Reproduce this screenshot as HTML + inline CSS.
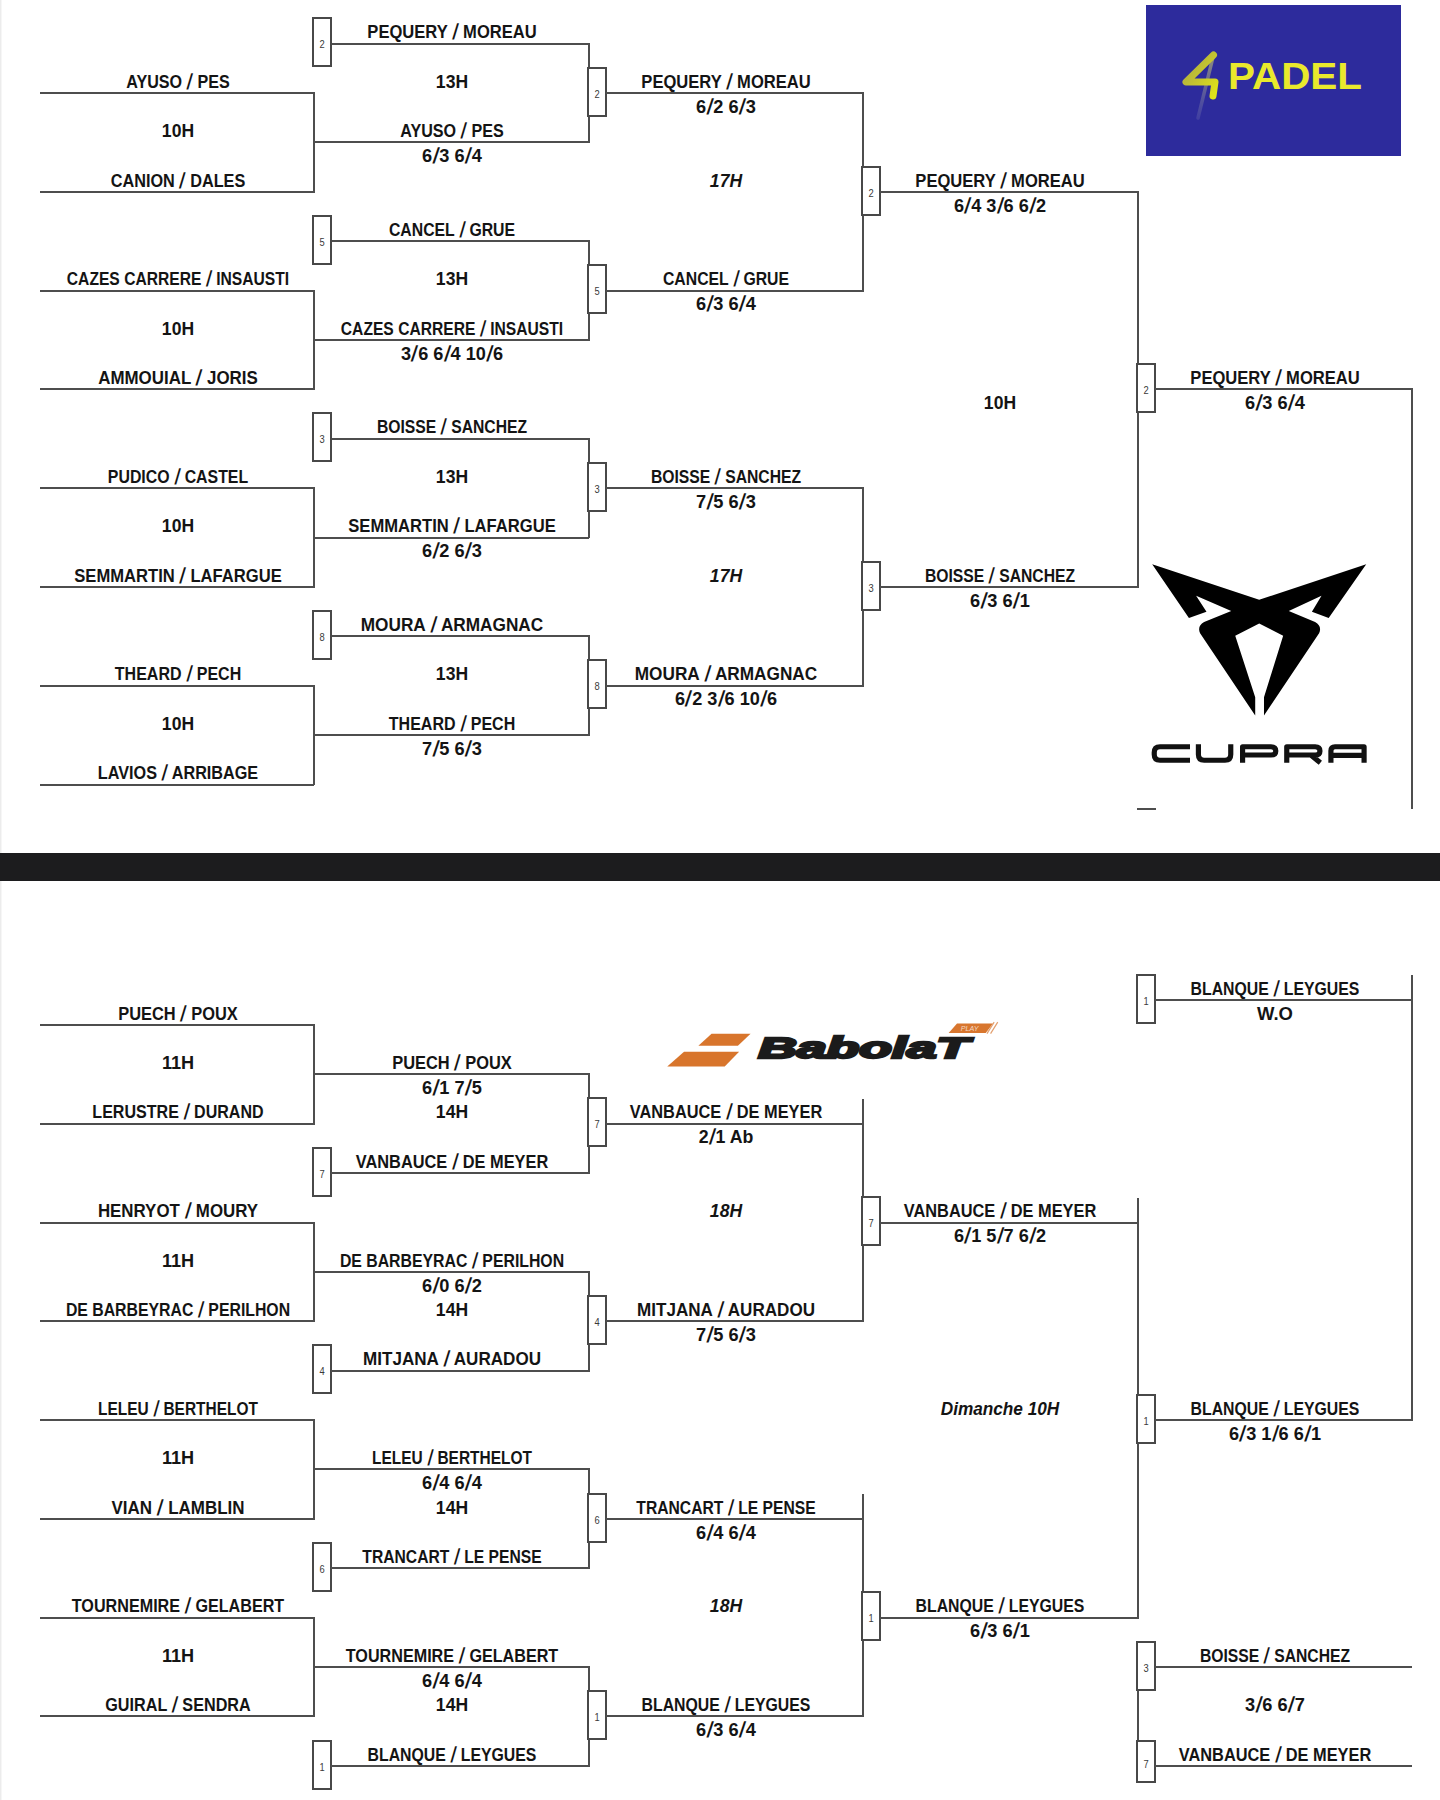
<!DOCTYPE html>
<html><head><meta charset="utf-8"><style>
html,body{margin:0;padding:0;background:#fff;}
body{width:1440px;height:1800px;position:relative;overflow:hidden;font-family:"Liberation Sans",sans-serif;}
.l{position:absolute;background:#4e4e4e;}
.b{position:absolute;width:16px;border:2px solid #484848;background:#fff;}
.b span{position:absolute;left:0;right:0;top:50%;margin-top:-4px;text-align:center;font-size:11px;line-height:12px;color:#3a3a3a;transform:scaleX(0.85);}
.t{position:absolute;width:400px;text-align:center;font-weight:bold;font-size:17.5px;line-height:20px;color:#141414;white-space:nowrap;transform-origin:200px 50%;}
.i{font-style:italic;}
.s{display:inline-block;margin:0 1px;transform:scaleY(1.25) skewX(-12deg);transform-origin:50% 55%;}
#edge{position:absolute;left:0;top:0;width:1px;height:1800px;background:#ececec;}
#edge2{position:absolute;left:1px;top:0;width:1px;height:1800px;background:#f6f6f6;}
#band{position:absolute;left:0;top:853px;width:1440px;height:28px;background:#1c1c1e;}
#padel{position:absolute;left:1145.5px;top:5px;width:255px;height:151px;background:#2d2b9c;}
</style></head><body>
<div id="edge"></div><div id="edge2"></div>
<div class="l" style="left:40.0px;top:92.0px;width:274.0px;height:2px"></div>
<div class="l" style="left:40.0px;top:190.8px;width:274.0px;height:2px"></div>
<div class="l" style="left:313.0px;top:92.0px;width:2px;height:100.8px"></div>
<div class="l" style="left:314.0px;top:141.4px;width:274.6px;height:2px"></div>
<div class="t" style="left:-22.5px;top:71.7px;transform:scaleX(0.921)">AYUSO <span class="s">/</span> PES</div>
<div class="t" style="left:-22.5px;top:121.1px;transform:scaleX(1.004)">10H</div>
<div class="t" style="left:-22.5px;top:170.5px;transform:scaleX(0.929)">CANION <span class="s">/</span> DALES</div>
<div class="l" style="left:331.0px;top:42.6px;width:257.6px;height:2px"></div>
<div class="b" style="left:312px;top:17px;height:46px"><span>2</span></div>
<div class="l" style="left:587.6px;top:42.6px;width:2px;height:100.8px"></div>
<div class="t" style="left:251.5px;top:22.3px;transform:scaleX(0.946)">PEQUERY <span class="s">/</span> MOREAU</div>
<div class="t" style="left:251.5px;top:71.7px;transform:scaleX(1.004)">13H</div>
<div class="t" style="left:251.5px;top:121.1px;transform:scaleX(0.921)">AYUSO <span class="s">/</span> PES</div>
<div class="t" style="left:251.5px;top:146.1px;transform:scaleX(1.041)">6<span class="s">/</span>3 6<span class="s">/</span>4</div>
<div class="l" style="left:40.0px;top:289.6px;width:274.0px;height:2px"></div>
<div class="l" style="left:40.0px;top:388.3px;width:274.0px;height:2px"></div>
<div class="l" style="left:313.0px;top:289.6px;width:2px;height:100.8px"></div>
<div class="l" style="left:314.0px;top:338.9px;width:274.6px;height:2px"></div>
<div class="t" style="left:-22.5px;top:269.2px;transform:scaleX(0.893)">CAZES CARRERE <span class="s">/</span> INSAUSTI</div>
<div class="t" style="left:-22.5px;top:318.6px;transform:scaleX(1.004)">10H</div>
<div class="t" style="left:-22.5px;top:368.0px;transform:scaleX(0.967)">AMMOUIAL <span class="s">/</span> JORIS</div>
<div class="l" style="left:331.0px;top:240.2px;width:257.6px;height:2px"></div>
<div class="b" style="left:312px;top:215px;height:46px"><span>5</span></div>
<div class="l" style="left:587.6px;top:240.2px;width:2px;height:100.8px"></div>
<div class="t" style="left:251.5px;top:219.9px;transform:scaleX(0.902)">CANCEL <span class="s">/</span> GRUE</div>
<div class="t" style="left:251.5px;top:269.2px;transform:scaleX(1.004)">13H</div>
<div class="t" style="left:251.5px;top:318.6px;transform:scaleX(0.893)">CAZES CARRERE <span class="s">/</span> INSAUSTI</div>
<div class="t" style="left:251.5px;top:343.6px;transform:scaleX(1.036)">3<span class="s">/</span>6 6<span class="s">/</span>4 10<span class="s">/</span>6</div>
<div class="l" style="left:40.0px;top:487.1px;width:274.0px;height:2px"></div>
<div class="l" style="left:40.0px;top:585.9px;width:274.0px;height:2px"></div>
<div class="l" style="left:313.0px;top:487.1px;width:2px;height:100.8px"></div>
<div class="l" style="left:314.0px;top:536.5px;width:274.6px;height:2px"></div>
<div class="t" style="left:-22.5px;top:466.8px;transform:scaleX(0.907)">PUDICO <span class="s">/</span> CASTEL</div>
<div class="t" style="left:-22.5px;top:516.2px;transform:scaleX(1.004)">10H</div>
<div class="t" style="left:-22.5px;top:565.6px;transform:scaleX(0.948)">SEMMARTIN <span class="s">/</span> LAFARGUE</div>
<div class="l" style="left:331.0px;top:437.7px;width:257.6px;height:2px"></div>
<div class="b" style="left:312px;top:412px;height:46px"><span>3</span></div>
<div class="l" style="left:587.6px;top:437.7px;width:2px;height:100.8px"></div>
<div class="t" style="left:251.5px;top:417.4px;transform:scaleX(0.897)">BOISSE <span class="s">/</span> SANCHEZ</div>
<div class="t" style="left:251.5px;top:466.8px;transform:scaleX(1.004)">13H</div>
<div class="t" style="left:251.5px;top:516.2px;transform:scaleX(0.948)">SEMMARTIN <span class="s">/</span> LAFARGUE</div>
<div class="t" style="left:251.5px;top:541.2px;transform:scaleX(1.041)">6<span class="s">/</span>2 6<span class="s">/</span>3</div>
<div class="l" style="left:40.0px;top:684.7px;width:274.0px;height:2px"></div>
<div class="l" style="left:40.0px;top:783.5px;width:274.0px;height:2px"></div>
<div class="l" style="left:313.0px;top:684.7px;width:2px;height:100.8px"></div>
<div class="l" style="left:314.0px;top:734.1px;width:274.6px;height:2px"></div>
<div class="t" style="left:-22.5px;top:664.4px;transform:scaleX(0.915)">THEARD <span class="s">/</span> PECH</div>
<div class="t" style="left:-22.5px;top:713.8px;transform:scaleX(1.004)">10H</div>
<div class="t" style="left:-22.5px;top:763.2px;transform:scaleX(0.926)">LAVIOS <span class="s">/</span> ARRIBAGE</div>
<div class="l" style="left:331.0px;top:635.3px;width:257.6px;height:2px"></div>
<div class="b" style="left:312px;top:610px;height:46px"><span>8</span></div>
<div class="l" style="left:587.6px;top:635.3px;width:2px;height:100.8px"></div>
<div class="t" style="left:251.5px;top:615.0px;transform:scaleX(0.984)">MOURA <span class="s">/</span> ARMAGNAC</div>
<div class="t" style="left:251.5px;top:664.4px;transform:scaleX(1.004)">13H</div>
<div class="t" style="left:251.5px;top:713.8px;transform:scaleX(0.915)">THEARD <span class="s">/</span> PECH</div>
<div class="t" style="left:251.5px;top:738.8px;transform:scaleX(1.041)">7<span class="s">/</span>5 6<span class="s">/</span>3</div>
<div class="b" style="left:587px;top:67px;height:46px"><span>2</span></div>
<div class="l" style="left:605.6px;top:92.0px;width:257.4px;height:2px"></div>
<div class="t" style="left:526.0px;top:71.7px;transform:scaleX(0.946)">PEQUERY <span class="s">/</span> MOREAU</div>
<div class="t" style="left:526.0px;top:96.7px;transform:scaleX(1.041)">6<span class="s">/</span>2 6<span class="s">/</span>3</div>
<div class="b" style="left:587px;top:264px;height:46px"><span>5</span></div>
<div class="l" style="left:605.6px;top:289.6px;width:257.4px;height:2px"></div>
<div class="t" style="left:526.0px;top:269.2px;transform:scaleX(0.902)">CANCEL <span class="s">/</span> GRUE</div>
<div class="t" style="left:526.0px;top:294.2px;transform:scaleX(1.041)">6<span class="s">/</span>3 6<span class="s">/</span>4</div>
<div class="b" style="left:587px;top:462px;height:46px"><span>3</span></div>
<div class="l" style="left:605.6px;top:487.1px;width:257.4px;height:2px"></div>
<div class="t" style="left:526.0px;top:466.8px;transform:scaleX(0.897)">BOISSE <span class="s">/</span> SANCHEZ</div>
<div class="t" style="left:526.0px;top:491.8px;transform:scaleX(1.041)">7<span class="s">/</span>5 6<span class="s">/</span>3</div>
<div class="b" style="left:587px;top:659px;height:46px"><span>8</span></div>
<div class="l" style="left:605.6px;top:684.7px;width:257.4px;height:2px"></div>
<div class="t" style="left:526.0px;top:664.4px;transform:scaleX(0.984)">MOURA <span class="s">/</span> ARMAGNAC</div>
<div class="t" style="left:526.0px;top:689.4px;transform:scaleX(1.036)">6<span class="s">/</span>2 3<span class="s">/</span>6 10<span class="s">/</span>6</div>
<div class="l" style="left:862.0px;top:92.0px;width:2px;height:199.6px"></div>
<div class="l" style="left:862.0px;top:487.1px;width:2px;height:199.6px"></div>
<div class="t i" style="left:526.0px;top:170.5px;transform:scaleX(1.004)">17H</div>
<div class="t i" style="left:526.0px;top:565.6px;transform:scaleX(1.004)">17H</div>
<div class="b" style="left:861px;top:166px;height:46px"><span>2</span></div>
<div class="l" style="left:880.0px;top:190.8px;width:257.5px;height:2px"></div>
<div class="b" style="left:861px;top:561px;height:46px"><span>3</span></div>
<div class="l" style="left:880.0px;top:585.9px;width:257.5px;height:2px"></div>
<div class="t" style="left:800.0px;top:170.5px;transform:scaleX(0.946)">PEQUERY <span class="s">/</span> MOREAU</div>
<div class="t" style="left:800.0px;top:195.5px;transform:scaleX(1.037)">6<span class="s">/</span>4 3<span class="s">/</span>6 6<span class="s">/</span>2</div>
<div class="t" style="left:800.0px;top:565.6px;transform:scaleX(0.897)">BOISSE <span class="s">/</span> SANCHEZ</div>
<div class="t" style="left:800.0px;top:590.6px;transform:scaleX(1.041)">6<span class="s">/</span>3 6<span class="s">/</span>1</div>
<div class="l" style="left:1136.5px;top:190.8px;width:2px;height:397.1px"></div>
<div class="t" style="left:800.0px;top:393.0px;transform:scaleX(1.004)">10H</div>
<div class="b" style="left:1136px;top:363px;height:46px"><span>2</span></div>
<div class="l" style="left:1154.5px;top:388.3px;width:257.1px;height:2px"></div>
<div class="t" style="left:1074.5px;top:368.0px;transform:scaleX(0.946)">PEQUERY <span class="s">/</span> MOREAU</div>
<div class="t" style="left:1074.5px;top:393.0px;transform:scaleX(1.041)">6<span class="s">/</span>3 6<span class="s">/</span>4</div>
<div class="l" style="left:1410.6px;top:388.3px;width:2px;height:421.2px"></div>
<div class="l" style="left:1136.5px;top:807.5px;width:19.0px;height:2px"></div>
<div class="l" style="left:40.0px;top:1023.9px;width:274.0px;height:2px"></div>
<div class="l" style="left:40.0px;top:1122.7px;width:274.0px;height:2px"></div>
<div class="l" style="left:313.0px;top:1023.9px;width:2px;height:100.8px"></div>
<div class="l" style="left:314.0px;top:1073.3px;width:274.6px;height:2px"></div>
<div class="t" style="left:-22.5px;top:1003.6px;transform:scaleX(0.938)">PUECH <span class="s">/</span> POUX</div>
<div class="t" style="left:-22.5px;top:1053.0px;transform:scaleX(1.035)">11H</div>
<div class="t" style="left:-22.5px;top:1102.4px;transform:scaleX(0.917)">LERUSTRE <span class="s">/</span> DURAND</div>
<div class="t" style="left:251.5px;top:1053.0px;transform:scaleX(0.938)">PUECH <span class="s">/</span> POUX</div>
<div class="t" style="left:251.5px;top:1078.0px;transform:scaleX(1.041)">6<span class="s">/</span>1 7<span class="s">/</span>5</div>
<div class="t" style="left:251.5px;top:1102.4px;transform:scaleX(1.004)">14H</div>
<div class="b" style="left:312px;top:1147px;height:46px"><span>7</span></div>
<div class="l" style="left:331.0px;top:1172.1px;width:257.6px;height:2px"></div>
<div class="t" style="left:251.5px;top:1151.8px;transform:scaleX(0.935)">VANBAUCE <span class="s">/</span> DE MEYER</div>
<div class="l" style="left:587.6px;top:1073.3px;width:2px;height:100.8px"></div>
<div class="l" style="left:40.0px;top:1221.5px;width:274.0px;height:2px"></div>
<div class="l" style="left:40.0px;top:1320.2px;width:274.0px;height:2px"></div>
<div class="l" style="left:313.0px;top:1221.5px;width:2px;height:100.8px"></div>
<div class="l" style="left:314.0px;top:1270.9px;width:274.6px;height:2px"></div>
<div class="t" style="left:-22.5px;top:1201.2px;transform:scaleX(0.965)">HENRYOT <span class="s">/</span> MOURY</div>
<div class="t" style="left:-22.5px;top:1250.6px;transform:scaleX(1.035)">11H</div>
<div class="t" style="left:-22.5px;top:1299.9px;transform:scaleX(0.904)">DE BARBEYRAC <span class="s">/</span> PERILHON</div>
<div class="t" style="left:251.5px;top:1250.6px;transform:scaleX(0.904)">DE BARBEYRAC <span class="s">/</span> PERILHON</div>
<div class="t" style="left:251.5px;top:1275.6px;transform:scaleX(1.041)">6<span class="s">/</span>0 6<span class="s">/</span>2</div>
<div class="t" style="left:251.5px;top:1299.9px;transform:scaleX(1.004)">14H</div>
<div class="b" style="left:312px;top:1344px;height:46px"><span>4</span></div>
<div class="l" style="left:331.0px;top:1369.6px;width:257.6px;height:2px"></div>
<div class="t" style="left:251.5px;top:1349.3px;transform:scaleX(0.975)">MITJANA <span class="s">/</span> AURADOU</div>
<div class="l" style="left:587.6px;top:1270.9px;width:2px;height:100.8px"></div>
<div class="l" style="left:40.0px;top:1419.0px;width:274.0px;height:2px"></div>
<div class="l" style="left:40.0px;top:1517.8px;width:274.0px;height:2px"></div>
<div class="l" style="left:313.0px;top:1419.0px;width:2px;height:100.8px"></div>
<div class="l" style="left:314.0px;top:1468.4px;width:274.6px;height:2px"></div>
<div class="t" style="left:-22.5px;top:1398.7px;transform:scaleX(0.883)">LELEU <span class="s">/</span> BERTHELOT</div>
<div class="t" style="left:-22.5px;top:1448.1px;transform:scaleX(1.035)">11H</div>
<div class="t" style="left:-22.5px;top:1497.5px;transform:scaleX(0.970)">VIAN <span class="s">/</span> LAMBLIN</div>
<div class="t" style="left:251.5px;top:1448.1px;transform:scaleX(0.883)">LELEU <span class="s">/</span> BERTHELOT</div>
<div class="t" style="left:251.5px;top:1473.1px;transform:scaleX(1.041)">6<span class="s">/</span>4 6<span class="s">/</span>4</div>
<div class="t" style="left:251.5px;top:1497.5px;transform:scaleX(1.004)">14H</div>
<div class="b" style="left:312px;top:1542px;height:46px"><span>6</span></div>
<div class="l" style="left:331.0px;top:1567.2px;width:257.6px;height:2px"></div>
<div class="t" style="left:251.5px;top:1546.9px;transform:scaleX(0.895)">TRANCART <span class="s">/</span> LE PENSE</div>
<div class="l" style="left:587.6px;top:1468.4px;width:2px;height:100.8px"></div>
<div class="l" style="left:40.0px;top:1616.6px;width:274.0px;height:2px"></div>
<div class="l" style="left:40.0px;top:1715.4px;width:274.0px;height:2px"></div>
<div class="l" style="left:313.0px;top:1616.6px;width:2px;height:100.8px"></div>
<div class="l" style="left:314.0px;top:1666.0px;width:274.6px;height:2px"></div>
<div class="t" style="left:-22.5px;top:1596.3px;transform:scaleX(0.923)">TOURNEMIRE <span class="s">/</span> GELABERT</div>
<div class="t" style="left:-22.5px;top:1645.7px;transform:scaleX(1.035)">11H</div>
<div class="t" style="left:-22.5px;top:1695.1px;transform:scaleX(0.925)">GUIRAL <span class="s">/</span> SENDRA</div>
<div class="t" style="left:251.5px;top:1645.7px;transform:scaleX(0.923)">TOURNEMIRE <span class="s">/</span> GELABERT</div>
<div class="t" style="left:251.5px;top:1670.7px;transform:scaleX(1.041)">6<span class="s">/</span>4 6<span class="s">/</span>4</div>
<div class="t" style="left:251.5px;top:1695.1px;transform:scaleX(1.004)">14H</div>
<div class="b" style="left:312px;top:1740px;height:46px"><span>1</span></div>
<div class="l" style="left:331.0px;top:1764.8px;width:257.6px;height:2px"></div>
<div class="t" style="left:251.5px;top:1744.5px;transform:scaleX(0.904)">BLANQUE <span class="s">/</span> LEYGUES</div>
<div class="l" style="left:587.6px;top:1666.0px;width:2px;height:100.8px"></div>
<div class="b" style="left:587px;top:1097px;height:46px"><span>7</span></div>
<div class="l" style="left:605.6px;top:1122.7px;width:257.4px;height:2px"></div>
<div class="t" style="left:526.0px;top:1102.4px;transform:scaleX(0.935)">VANBAUCE <span class="s">/</span> DE MEYER</div>
<div class="t" style="left:526.0px;top:1127.4px;transform:scaleX(1.013)">2<span class="s">/</span>1 Ab</div>
<div class="b" style="left:587px;top:1295px;height:46px"><span>4</span></div>
<div class="l" style="left:605.6px;top:1320.2px;width:257.4px;height:2px"></div>
<div class="t" style="left:526.0px;top:1299.9px;transform:scaleX(0.975)">MITJANA <span class="s">/</span> AURADOU</div>
<div class="t" style="left:526.0px;top:1324.9px;transform:scaleX(1.041)">7<span class="s">/</span>5 6<span class="s">/</span>3</div>
<div class="b" style="left:587px;top:1493px;height:46px"><span>6</span></div>
<div class="l" style="left:605.6px;top:1517.8px;width:257.4px;height:2px"></div>
<div class="t" style="left:526.0px;top:1497.5px;transform:scaleX(0.895)">TRANCART <span class="s">/</span> LE PENSE</div>
<div class="t" style="left:526.0px;top:1522.5px;transform:scaleX(1.041)">6<span class="s">/</span>4 6<span class="s">/</span>4</div>
<div class="b" style="left:587px;top:1690px;height:46px"><span>1</span></div>
<div class="l" style="left:605.6px;top:1715.4px;width:257.4px;height:2px"></div>
<div class="t" style="left:526.0px;top:1695.1px;transform:scaleX(0.904)">BLANQUE <span class="s">/</span> LEYGUES</div>
<div class="t" style="left:526.0px;top:1720.1px;transform:scaleX(1.041)">6<span class="s">/</span>3 6<span class="s">/</span>4</div>
<div class="l" style="left:862.0px;top:1098.7px;width:2px;height:223.6px"></div>
<div class="l" style="left:862.0px;top:1493.8px;width:2px;height:223.6px"></div>
<div class="t i" style="left:526.0px;top:1201.2px;transform:scaleX(1.004)">18H</div>
<div class="t i" style="left:526.0px;top:1596.3px;transform:scaleX(1.004)">18H</div>
<div class="b" style="left:861px;top:1196px;height:46px"><span>7</span></div>
<div class="l" style="left:880.0px;top:1221.5px;width:257.5px;height:2px"></div>
<div class="b" style="left:861px;top:1591px;height:46px"><span>1</span></div>
<div class="l" style="left:880.0px;top:1616.6px;width:257.5px;height:2px"></div>
<div class="t" style="left:800.0px;top:1201.2px;transform:scaleX(0.935)">VANBAUCE <span class="s">/</span> DE MEYER</div>
<div class="t" style="left:800.0px;top:1226.2px;transform:scaleX(1.037)">6<span class="s">/</span>1 5<span class="s">/</span>7 6<span class="s">/</span>2</div>
<div class="t" style="left:800.0px;top:1596.3px;transform:scaleX(0.904)">BLANQUE <span class="s">/</span> LEYGUES</div>
<div class="t" style="left:800.0px;top:1621.3px;transform:scaleX(1.041)">6<span class="s">/</span>3 6<span class="s">/</span>1</div>
<div class="t i" style="left:800.0px;top:1398.7px;transform:scaleX(0.983)">Dimanche 10H</div>
<div class="l" style="left:1136.5px;top:1197.5px;width:2px;height:421.1px"></div>
<div class="b" style="left:1136px;top:1394px;height:46px"><span>1</span></div>
<div class="l" style="left:1154.5px;top:1419.0px;width:257.1px;height:2px"></div>
<div class="t" style="left:1074.5px;top:1398.7px;transform:scaleX(0.904)">BLANQUE <span class="s">/</span> LEYGUES</div>
<div class="t" style="left:1074.5px;top:1423.7px;transform:scaleX(1.037)">6<span class="s">/</span>3 1<span class="s">/</span>6 6<span class="s">/</span>1</div>
<div class="b" style="left:1136px;top:974px;height:46px"><span>1</span></div>
<div class="l" style="left:1154.5px;top:999.2px;width:257.1px;height:2px"></div>
<div class="l" style="left:1410.6px;top:975.2px;width:2px;height:445.8px"></div>
<div class="t" style="left:1074.5px;top:978.9px;transform:scaleX(0.904)">BLANQUE <span class="s">/</span> LEYGUES</div>
<div class="t" style="left:1074.5px;top:1003.9px;transform:scaleX(1.056)">W.O</div>
<div class="b" style="left:1136px;top:1641px;height:46px"><span>3</span></div>
<div class="l" style="left:1154.5px;top:1666.0px;width:257.1px;height:2px"></div>
<div class="t" style="left:1074.5px;top:1645.7px;transform:scaleX(0.897)">BOISSE <span class="s">/</span> SANCHEZ</div>
<div class="l" style="left:1136.5px;top:1691.0px;width:2px;height:50.8px"></div>
<div class="b" style="left:1136px;top:1740px;height:39px"><span>7</span></div>
<div class="l" style="left:1154.5px;top:1764.8px;width:257.1px;height:2px"></div>
<div class="t" style="left:1074.5px;top:1744.5px;transform:scaleX(0.935)">VANBAUCE <span class="s">/</span> DE MEYER</div>
<div class="t" style="left:1074.5px;top:1695.1px;transform:scaleX(1.041)">3<span class="s">/</span>6 6<span class="s">/</span>7</div>
<div id="padel">
<svg width="255" height="151" viewBox="0 0 255 151" style="position:absolute;left:0;top:0">
<defs><linearGradient id="g4" x1="0" y1="0" x2="1" y2="1"><stop offset="0" stop-color="#a8a848"/><stop offset="0.5" stop-color="#c4c430"/><stop offset="1" stop-color="#e0e618"/></linearGradient>
<linearGradient id="gt" x1="0" y1="0" x2="0" y2="1"><stop offset="0" stop-color="#9a9a78" stop-opacity="0.9"/><stop offset="1" stop-color="#7070b0" stop-opacity="0.3"/></linearGradient></defs>
<path d="M67,52 L52,113" stroke="url(#gt)" stroke-width="3.5" stroke-linecap="round" fill="none"/>
<path d="M67.5,50 L40,77 L69,77 L67,91" stroke="url(#g4)" stroke-width="7" stroke-linecap="round" stroke-linejoin="round" fill="none"/>
<text x="82" y="84" font-family="Liberation Sans" font-weight="bold" font-size="36" fill="#e9e92c" textLength="134" lengthAdjust="spacingAndGlyphs">PADEL</text>
</svg></div>
<svg width="230" height="170" viewBox="0 0 1440 1064" style="position:absolute;left:1145px;top:555px">
<path d="M45,58 L715,280 L1385,58 L1150,395 L1045,355 L1105,255 L900,350 L1065,420 Q1110,445 1090,490 L745,1005 L745,890 L865,505 L715,428 L565,505 L690,890 L690,1005 L345,490 Q325,445 370,420 L540,350 L320,255 L385,355 L275,395 Z" fill="#000"/>
</svg>
<svg width="240" height="45" viewBox="0 0 1440 270" style="position:absolute;left:1140px;top:730px">
<g fill="none" stroke="#111" stroke-width="31" stroke-linejoin="round">
<path d="M300,100.5 H120 Q85.5,100.5 85.5,135 V147 Q85.5,181.5 120,181.5 H300"/>
<path d="M350.5,85 V147 Q350.5,181.5 385,181.5 H510 Q544.5,181.5 544.5,147 V85"/>
<path d="M615.5,197 V100.5 H786 Q814.5,100.5 814.5,125 V127 Q814.5,150 786,150 H615.5"/>
<path d="M880.5,197 V100.5 H1051 Q1079.5,100.5 1079.5,125 V127 Q1079.5,150 1051,150 H880.5 M1025,150 L1082,197"/>
<path d="M1145.5,197 V125 Q1145.5,100.5 1170,100.5 H1344.5 V197 M1145.5,152 H1344.5"/>
</g></svg>
<div id="band"></div>
<svg width="345" height="57" viewBox="0 0 1440 238" style="position:absolute;left:660px;top:1015px">
<polygon points="215,78 378,78 325,128 160,128" fill="#d8752c"/>
<polygon points="100,153 330,153 270,215 30,215" fill="#d8752c"/>
<polygon points="1240,35 1390,35 1360,75 1205,75" fill="#d8762e"/>
<path d="M1395,30 L1365,78 M1410,30 L1380,78" stroke="#e3a070" stroke-width="5"/>
<text x="1255" y="68" font-family="Liberation Sans" font-style="italic" font-size="30" fill="#f4d9c4">PLAY</text>
<text x="410" y="181" font-family="Liberation Sans" font-weight="bold" font-style="italic" font-size="124" fill="#1b1b1b" stroke="#1b1b1b" stroke-width="10" textLength="880" lengthAdjust="spacingAndGlyphs">BabolaT</text>
</svg>
</body></html>
